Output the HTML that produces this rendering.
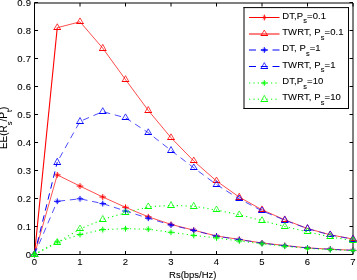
<!DOCTYPE html>
<html><head><meta charset="utf-8"><style>
html,body{margin:0;padding:0;background:#fff;}
svg{display:block;will-change:transform;}
text{font-family:"Liberation Sans",sans-serif;fill:#000;stroke:#000;stroke-width:0.08px;}
.tk{font-size:9.5px;letter-spacing:0.25px;}
.lb{font-size:9.5px;}
.lg{font-size:9.5px;letter-spacing:0.1px;}
.sb{font-size:7.4px;}
.yl{font-size:10px;}
.sb2{font-size:7.5px;}
</style></head><body>
<svg width="357" height="280" viewBox="0 0 357 280">
<rect width="357" height="280" fill="#fff"/>
<path d="M34.5,2.5V254.5H353" fill="none" stroke="#000" stroke-width="1"/>
<path d="M34.5,3H353V254.5" fill="none" stroke="#000" stroke-width="1"/>
<path d="M34.50,254.5V251M34.50,3V6.5M80.00,254.5V251M80.00,3V6.5M125.50,254.5V251M125.50,3V6.5M171.00,254.5V251M171.00,3V6.5M216.50,254.5V251M216.50,3V6.5M262.00,254.5V251M262.00,3V6.5M307.50,254.5V251M307.50,3V6.5M353.00,254.5V251M353.00,3V6.5M34.5,254.50H38M353,254.50H349.5M34.5,226.50H38M353,226.50H349.5M34.5,198.50H38M353,198.50H349.5M34.5,170.50H38M353,170.50H349.5M34.5,142.50H38M353,142.50H349.5M34.5,114.50H38M353,114.50H349.5M34.5,86.50H38M353,86.50H349.5M34.5,58.50H38M353,58.50H349.5M34.5,30.50H38M353,30.50H349.5M34.5,2.50H38M353,2.50H349.5" fill="none" stroke="#000" stroke-width="1"/>
<line x1="34.50" y1="254.50" x2="57.25" y2="174.90" stroke="#ff0000" stroke-width="0.68"/><polyline points="57.25,174.90 80.00,186.10 102.75,197.00 125.50,207.30 148.25,216.80 171.00,224.40 193.75,230.20 216.50,236.00 239.25,239.40 262.00,243.00 284.75,245.50 307.50,247.90 330.25,249.20 353.00,250.30" fill="none" stroke="#ff0000" stroke-width="0.7"/>
<path d="M31.20,254.50H37.80M34.50,251.60V257.40M53.95,174.90H60.55M57.25,172.00V177.80M76.70,186.10H83.30M80.00,183.20V189.00M99.45,197.00H106.05M102.75,194.10V199.90M122.20,207.30H128.80M125.50,204.40V210.20M144.95,216.80H151.55M148.25,213.90V219.70M167.70,224.40H174.30M171.00,221.50V227.30M190.45,230.20H197.05M193.75,227.30V233.10M213.20,236.00H219.80M216.50,233.10V238.90M235.95,239.40H242.55M239.25,236.50V242.30M258.70,243.00H265.30M262.00,240.10V245.90M281.45,245.50H288.05M284.75,242.60V248.40M304.20,247.90H310.80M307.50,245.00V250.80M326.95,249.20H333.55M330.25,246.30V252.10M349.70,250.30H356.30M353.00,247.40V253.20" fill="none" stroke="#ff0000" stroke-width="1"/><path d="M32.80,252.80L36.20,256.20M32.80,256.20L36.20,252.80M55.55,173.20L58.95,176.60M55.55,176.60L58.95,173.20M78.30,184.40L81.70,187.80M78.30,187.80L81.70,184.40M101.05,195.30L104.45,198.70M101.05,198.70L104.45,195.30M123.80,205.60L127.20,209.00M123.80,209.00L127.20,205.60M146.55,215.10L149.95,218.50M146.55,218.50L149.95,215.10M169.30,222.70L172.70,226.10M169.30,226.10L172.70,222.70M192.05,228.50L195.45,231.90M192.05,231.90L195.45,228.50M214.80,234.30L218.20,237.70M214.80,237.70L218.20,234.30M237.55,237.70L240.95,241.10M237.55,241.10L240.95,237.70M260.30,241.30L263.70,244.70M260.30,244.70L263.70,241.30M283.05,243.80L286.45,247.20M283.05,247.20L286.45,243.80M305.80,246.20L309.20,249.60M305.80,249.60L309.20,246.20M328.55,247.50L331.95,250.90M328.55,250.90L331.95,247.50M351.30,248.60L354.70,252.00M351.30,252.00L354.70,248.60" fill="none" stroke="#ff0000" stroke-width="0.8" opacity="0.7"/>
<line x1="34.50" y1="254.50" x2="57.25" y2="27.70" stroke="#ff0000" stroke-width="1.10"/><polyline points="57.25,27.70 80.00,21.80 102.75,48.20 125.50,79.60 148.25,110.40 171.00,137.70 193.75,161.00 216.50,181.00 239.25,197.10 262.00,209.80 284.75,219.80 307.50,228.50 330.25,234.80 353.00,239.00" fill="none" stroke="#ff0000" stroke-width="0.7"/>
<path d="M34.50,250.60L37.80,256.50L31.20,256.50ZM57.25,23.80L60.55,29.50L53.95,29.50ZM80.00,17.90L83.30,23.50L76.70,23.50ZM102.75,44.30L106.05,50.50L99.45,50.50ZM125.50,75.70L128.80,81.50L122.20,81.50ZM148.25,106.50L151.55,112.50L144.95,112.50ZM171.00,133.80L174.30,139.50L167.70,139.50ZM193.75,157.10L197.05,162.50L190.45,162.50ZM216.50,177.10L219.80,182.50L213.20,182.50ZM239.25,193.20L242.55,199.50L235.95,199.50ZM262.00,205.90L265.30,211.50L258.70,211.50ZM284.75,215.90L288.05,221.50L281.45,221.50ZM307.50,224.60L310.80,230.50L304.20,230.50ZM330.25,230.90L333.55,236.50L326.95,236.50ZM353.00,235.10L356.30,240.50L349.70,240.50Z" fill="none" stroke="#ff0000" stroke-width="0.75" stroke-linejoin="miter"/><path d="M30.90,256.50H38.10M53.65,29.50H60.85M76.40,23.50H83.60M99.15,50.50H106.35M121.90,81.50H129.10M144.65,112.50H151.85M167.40,139.50H174.60M190.15,162.50H197.35M212.90,182.50H220.10M235.65,199.50H242.85M258.40,211.50H265.60M281.15,221.50H288.35M303.90,230.50H311.10M326.65,236.50H333.85M349.40,240.50H356.60" fill="none" stroke="#ff0000" stroke-width="1"/>
<line x1="34.50" y1="254.50" x2="57.25" y2="201.30" stroke="#0000ff" stroke-width="0.68" stroke-dasharray="6.5,4.8"/><polyline points="57.25,201.30 80.00,198.80 102.75,203.60 125.50,211.00 148.25,218.20 171.00,225.00 193.75,230.40 216.50,236.20 239.25,239.60 262.00,243.20 284.75,245.70 307.50,248.00 330.25,249.30 353.00,250.40" fill="none" stroke="#0000ff" stroke-width="0.7" stroke-dasharray="6.5,4.8" stroke-dashoffset="-57.86"/>
<path d="M31.20,254.50H37.80M34.50,251.60V257.40M53.95,201.30H60.55M57.25,198.40V204.20M76.70,198.80H83.30M80.00,195.90V201.70M99.45,203.60H106.05M102.75,200.70V206.50M122.20,211.00H128.80M125.50,208.10V213.90M144.95,218.20H151.55M148.25,215.30V221.10M167.70,225.00H174.30M171.00,222.10V227.90M190.45,230.40H197.05M193.75,227.50V233.30M213.20,236.20H219.80M216.50,233.30V239.10M235.95,239.60H242.55M239.25,236.70V242.50M258.70,243.20H265.30M262.00,240.30V246.10M281.45,245.70H288.05M284.75,242.80V248.60M304.20,248.00H310.80M307.50,245.10V250.90M326.95,249.30H333.55M330.25,246.40V252.20M349.70,250.40H356.30M353.00,247.50V253.30" fill="none" stroke="#0000ff" stroke-width="1"/><path d="M32.80,252.80L36.20,256.20M32.80,256.20L36.20,252.80M55.55,199.60L58.95,203.00M55.55,203.00L58.95,199.60M78.30,197.10L81.70,200.50M78.30,200.50L81.70,197.10M101.05,201.90L104.45,205.30M101.05,205.30L104.45,201.90M123.80,209.30L127.20,212.70M123.80,212.70L127.20,209.30M146.55,216.50L149.95,219.90M146.55,219.90L149.95,216.50M169.30,223.30L172.70,226.70M169.30,226.70L172.70,223.30M192.05,228.70L195.45,232.10M192.05,232.10L195.45,228.70M214.80,234.50L218.20,237.90M214.80,237.90L218.20,234.50M237.55,237.90L240.95,241.30M237.55,241.30L240.95,237.90M260.30,241.50L263.70,244.90M260.30,244.90L263.70,241.50M283.05,244.00L286.45,247.40M283.05,247.40L286.45,244.00M305.80,246.30L309.20,249.70M305.80,249.70L309.20,246.30M328.55,247.60L331.95,251.00M328.55,251.00L331.95,247.60M351.30,248.70L354.70,252.10M351.30,252.10L354.70,248.70" fill="none" stroke="#0000ff" stroke-width="0.8" opacity="0.7"/>
<line x1="34.50" y1="254.50" x2="57.25" y2="162.10" stroke="#0000ff" stroke-width="1.00" stroke-dasharray="6.5,4.8"/><polyline points="57.25,162.10 80.00,121.40 102.75,111.60 125.50,117.80 148.25,132.70 171.00,150.40 193.75,167.80 216.50,184.60 239.25,198.90 262.00,210.80 284.75,220.20 307.50,228.60 330.25,235.00 353.00,239.20" fill="none" stroke="#0000ff" stroke-width="0.7" stroke-dasharray="6.5,4.8" stroke-dashoffset="-95.16"/>
<path d="M34.50,250.60L37.80,256.50L31.20,256.50ZM57.25,158.20L60.55,164.50L53.95,164.50ZM80.00,117.50L83.30,123.50L76.70,123.50ZM102.75,107.70L106.05,113.50L99.45,113.50ZM125.50,113.90L128.80,119.50L122.20,119.50ZM148.25,128.80L151.55,134.50L144.95,134.50ZM171.00,146.50L174.30,152.50L167.70,152.50ZM193.75,163.90L197.05,169.50L190.45,169.50ZM216.50,180.70L219.80,186.50L213.20,186.50ZM239.25,195.00L242.55,200.50L235.95,200.50ZM262.00,206.90L265.30,212.50L258.70,212.50ZM284.75,216.30L288.05,222.50L281.45,222.50ZM307.50,224.70L310.80,230.50L304.20,230.50ZM330.25,231.10L333.55,236.50L326.95,236.50ZM353.00,235.30L356.30,241.50L349.70,241.50Z" fill="none" stroke="#0000ff" stroke-width="0.75" stroke-linejoin="miter"/><path d="M30.90,256.50H38.10M53.65,164.50H60.85M76.40,123.50H83.60M99.15,113.50H106.35M121.90,119.50H129.10M144.65,134.50H151.85M167.40,152.50H174.60M190.15,169.50H197.35M212.90,186.50H220.10M235.65,200.50H242.85M258.40,212.50H265.60M281.15,222.50H288.35M303.90,230.50H311.10M326.65,236.50H333.85M349.40,241.50H356.60" fill="none" stroke="#0000ff" stroke-width="1"/>
<line x1="34.50" y1="254.50" x2="57.25" y2="242.00" stroke="#00ff00" stroke-width="1.05" stroke-dasharray="1.2,3.2"/><polyline points="57.25,242.00 80.00,234.50 102.75,229.60 125.50,228.70 148.25,229.20 171.00,232.30 193.75,235.40 216.50,237.90 239.25,241.00 262.00,243.80 284.75,246.20 307.50,248.40 330.25,249.60 353.00,250.60" fill="none" stroke="#00ff00" stroke-width="1.05" stroke-dasharray="1.2,3.2" stroke-dashoffset="-25.96"/>
<path d="M31.20,254.50H37.80M34.50,251.60V257.40M53.95,242.00H60.55M57.25,239.10V244.90M76.70,234.50H83.30M80.00,231.60V237.40M99.45,229.60H106.05M102.75,226.70V232.50M122.20,228.70H128.80M125.50,225.80V231.60M144.95,229.20H151.55M148.25,226.30V232.10M167.70,232.30H174.30M171.00,229.40V235.20M190.45,235.40H197.05M193.75,232.50V238.30M213.20,237.90H219.80M216.50,235.00V240.80M235.95,241.00H242.55M239.25,238.10V243.90M258.70,243.80H265.30M262.00,240.90V246.70M281.45,246.20H288.05M284.75,243.30V249.10M304.20,248.40H310.80M307.50,245.50V251.30M326.95,249.60H333.55M330.25,246.70V252.50M349.70,250.60H356.30M353.00,247.70V253.50" fill="none" stroke="#00ff00" stroke-width="1"/><path d="M32.80,252.80L36.20,256.20M32.80,256.20L36.20,252.80M55.55,240.30L58.95,243.70M55.55,243.70L58.95,240.30M78.30,232.80L81.70,236.20M78.30,236.20L81.70,232.80M101.05,227.90L104.45,231.30M101.05,231.30L104.45,227.90M123.80,227.00L127.20,230.40M123.80,230.40L127.20,227.00M146.55,227.50L149.95,230.90M146.55,230.90L149.95,227.50M169.30,230.60L172.70,234.00M169.30,234.00L172.70,230.60M192.05,233.70L195.45,237.10M192.05,237.10L195.45,233.70M214.80,236.20L218.20,239.60M214.80,239.60L218.20,236.20M237.55,239.30L240.95,242.70M237.55,242.70L240.95,239.30M260.30,242.10L263.70,245.50M260.30,245.50L263.70,242.10M283.05,244.50L286.45,247.90M283.05,247.90L286.45,244.50M305.80,246.70L309.20,250.10M305.80,250.10L309.20,246.70M328.55,247.90L331.95,251.30M328.55,251.30L331.95,247.90M351.30,248.90L354.70,252.30M351.30,252.30L354.70,248.90" fill="none" stroke="#00ff00" stroke-width="0.8" opacity="0.7"/>
<line x1="34.50" y1="254.50" x2="57.25" y2="242.50" stroke="#00ff00" stroke-width="1.05" stroke-dasharray="1.2,3.2"/><polyline points="57.25,242.50 80.00,229.00 102.75,219.40 125.50,212.80 148.25,206.80 171.00,205.40 193.75,206.20 216.50,210.00 239.25,214.80 262.00,220.60 284.75,226.50 307.50,231.80 330.25,237.00 353.00,240.60" fill="none" stroke="#00ff00" stroke-width="1.05" stroke-dasharray="1.2,3.2" stroke-dashoffset="-25.72"/>
<path d="M34.50,250.60L37.80,256.50L31.20,256.50ZM57.25,238.60L60.55,244.50L53.95,244.50ZM80.00,225.10L83.30,230.50L76.70,230.50ZM102.75,215.50L106.05,221.50L99.45,221.50ZM125.50,208.90L128.80,214.50L122.20,214.50ZM148.25,202.90L151.55,208.50L144.95,208.50ZM171.00,201.50L174.30,207.50L167.70,207.50ZM193.75,202.30L197.05,208.50L190.45,208.50ZM216.50,206.10L219.80,211.50L213.20,211.50ZM239.25,210.90L242.55,216.50L235.95,216.50ZM262.00,216.70L265.30,222.50L258.70,222.50ZM284.75,222.60L288.05,228.50L281.45,228.50ZM307.50,227.90L310.80,233.50L304.20,233.50ZM330.25,233.10L333.55,238.50L326.95,238.50ZM353.00,236.70L356.30,242.50L349.70,242.50Z" fill="none" stroke="#00ff00" stroke-width="0.75" stroke-linejoin="miter"/><path d="M30.90,256.50H38.10M53.65,244.50H60.85M76.40,230.50H83.60M99.15,221.50H106.35M121.90,214.50H129.10M144.65,208.50H151.85M167.40,207.50H174.60M190.15,208.50H197.35M212.90,211.50H220.10M235.65,216.50H242.85M258.40,222.50H265.60M281.15,228.50H288.35M303.90,233.50H311.10M326.65,238.50H333.85M349.40,242.50H356.60" fill="none" stroke="#00ff00" stroke-width="1"/>
<rect x="244" y="7.6" width="104.5" height="100.9" fill="#fff"/>
<path d="M244,7.1V109M243.5,7.6H349M348.5,7.1V109M243.5,108.5H349" fill="none" stroke="#000" stroke-width="1"/>
<line x1="249" y1="17.50" x2="279.5" y2="17.50" stroke="#ff0000" stroke-width="1"/>
<path d="M261.00,17.50H267.60M264.30,14.60V20.40" fill="none" stroke="#ff0000" stroke-width="1"/><path d="M262.60,15.80L266.00,19.20M262.60,19.20L266.00,15.80" fill="none" stroke="#ff0000" stroke-width="0.8" opacity="0.7"/>
<text class="lg" x="282.2" y="18.50">DT,P<tspan class="sb" dy="4.5">s</tspan><tspan dy="-4.5">=0.1</tspan></text>
<line x1="249" y1="34.00" x2="279.5" y2="34.00" stroke="#ff0000" stroke-width="1"/>
<path d="M264.30,30.10L267.60,35.50L261.00,35.50Z" fill="none" stroke="#ff0000" stroke-width="0.75" stroke-linejoin="miter"/><path d="M260.70,35.50H267.90" fill="none" stroke="#ff0000" stroke-width="1"/>
<text class="lg" x="282.2" y="35.00">TWRT, P<tspan class="sb" dy="4.5">s</tspan><tspan dy="-4.5">=0.1</tspan></text>
<line x1="249" y1="50.00" x2="279.5" y2="50.00" stroke="#0000ff" stroke-width="1" stroke-dasharray="7,4.75"/>
<path d="M261.00,50.00H267.60M264.30,47.10V52.90" fill="none" stroke="#0000ff" stroke-width="1"/><path d="M262.60,48.30L266.00,51.70M262.60,51.70L266.00,48.30" fill="none" stroke="#0000ff" stroke-width="0.8" opacity="0.7"/>
<text class="lg" x="282.2" y="51.00">DT, P<tspan class="sb" dy="4.5">s</tspan><tspan dy="-4.5">=1</tspan></text>
<line x1="249" y1="66.50" x2="279.5" y2="66.50" stroke="#0000ff" stroke-width="1" stroke-dasharray="7,4.75"/>
<path d="M264.30,62.60L267.60,68.50L261.00,68.50Z" fill="none" stroke="#0000ff" stroke-width="0.75" stroke-linejoin="miter"/><path d="M260.70,68.50H267.90" fill="none" stroke="#0000ff" stroke-width="1"/>
<text class="lg" x="282.2" y="67.50">TWRT, P<tspan class="sb" dy="4.5">s</tspan><tspan dy="-4.5">=1</tspan></text>
<line x1="249" y1="83.00" x2="279.5" y2="83.00" stroke="#00ff00" stroke-width="1" stroke-dasharray="1.2,3.2"/>
<path d="M261.00,83.00H267.60M264.30,80.10V85.90" fill="none" stroke="#00ff00" stroke-width="1"/><path d="M262.60,81.30L266.00,84.70M262.60,84.70L266.00,81.30" fill="none" stroke="#00ff00" stroke-width="0.8" opacity="0.7"/>
<text class="lg" x="282.2" y="84.00">DT,P<tspan class="sb" dy="4.5">s</tspan><tspan dy="-4.5">=10</tspan></text>
<line x1="249" y1="99.20" x2="279.5" y2="99.20" stroke="#00ff00" stroke-width="1" stroke-dasharray="1.2,3.2"/>
<path d="M264.30,95.30L267.60,101.50L261.00,101.50Z" fill="none" stroke="#00ff00" stroke-width="0.75" stroke-linejoin="miter"/><path d="M260.70,101.50H267.90" fill="none" stroke="#00ff00" stroke-width="1"/>
<text class="lg" x="282.2" y="100.20">TWRT, P<tspan class="sb" dy="4.5">s</tspan><tspan dy="-4.5">=10</tspan></text>
<text class="tk" x="34.50" y="265.1" text-anchor="middle">0</text>
<text class="tk" x="80.00" y="265.1" text-anchor="middle">1</text>
<text class="tk" x="125.50" y="265.1" text-anchor="middle">2</text>
<text class="tk" x="171.00" y="265.1" text-anchor="middle">3</text>
<text class="tk" x="216.50" y="265.1" text-anchor="middle">4</text>
<text class="tk" x="262.00" y="265.1" text-anchor="middle">5</text>
<text class="tk" x="307.50" y="265.1" text-anchor="middle">6</text>
<text class="tk" x="353.00" y="265.1" text-anchor="middle">7</text>
<text class="tk" x="31.3" y="257.80" text-anchor="end">0</text>
<text class="tk" x="31.3" y="229.80" text-anchor="end">0.1</text>
<text class="tk" x="31.3" y="201.80" text-anchor="end">0.2</text>
<text class="tk" x="31.3" y="173.80" text-anchor="end">0.3</text>
<text class="tk" x="31.3" y="145.80" text-anchor="end">0.4</text>
<text class="tk" x="31.3" y="117.80" text-anchor="end">0.5</text>
<text class="tk" x="31.3" y="89.80" text-anchor="end">0.6</text>
<text class="tk" x="31.3" y="61.80" text-anchor="end">0.7</text>
<text class="tk" x="31.3" y="33.80" text-anchor="end">0.8</text>
<text class="tk" x="31.3" y="5.80" text-anchor="end">0.9</text>
<text class="lb" x="192.8" y="278.1" text-anchor="middle">Rs(bps/Hz)</text>
<text class="yl" transform="translate(7.3,127.8) rotate(-90)" text-anchor="middle">EE(R<tspan class="sb2" dy="4.8">s</tspan><tspan dy="-4.8">/P</tspan><tspan class="sb2" dy="4.8">t</tspan><tspan dy="-4.8">)</tspan></text>
</svg>
</body></html>
